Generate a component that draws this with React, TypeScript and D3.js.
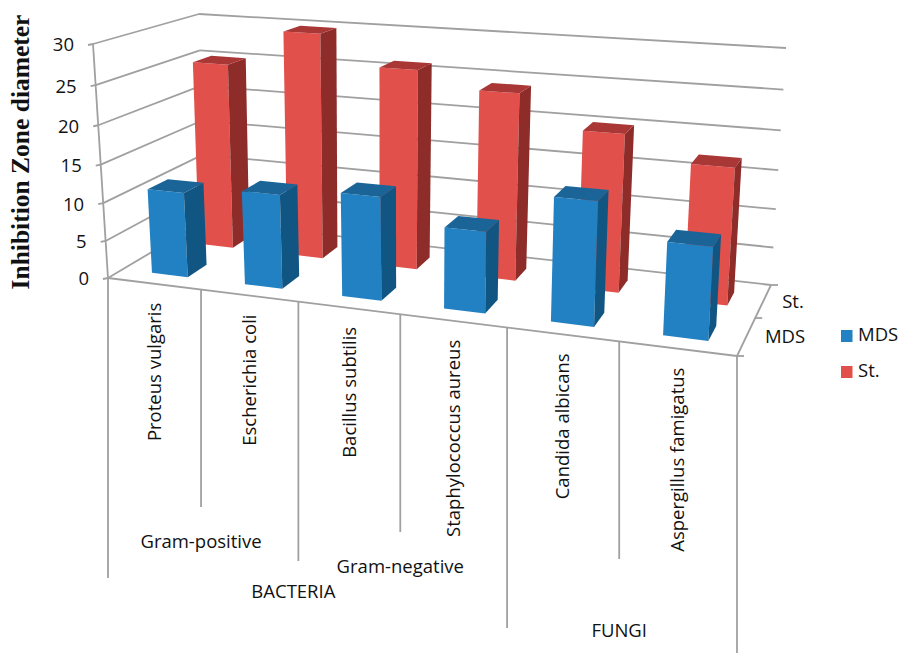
import React from "react";
import * as d3 from "d3";

// Chart values
const categories = ["Proteus vulgaris", "Escherichia coli", "Bacillus subtilis", "Staphylococcus aureus", "Candida albicans", "Aspergillus famigatus"];
const seriesNames = ["MDS", "St."];
const mdsValues = [11.25, 12.25, 13.25, 10.25, 15.25, 11.25];
const stValues = [25.25, 30, 26.25, 24.25, 20.25, 17.25];
const valueTicks = [0, 5, 10, 15, 20, 25, 30];
const groupLabels = [
  { text: "Gram-positive", from: 0, to: 2, line: 0 },
  { text: "Gram-negative", from: 2, to: 4, line: 1 },
  { text: "BACTERIA", from: 0, to: 4, line: 2 },
  { text: "FUNGI", from: 4, to: 6, line: 3 },
];

// Palette
const seriesColors = [
  { front: "#2181C2", side: "#115583", top: "#1A6497" },
  { front: "#E2504C", side: "#8E2C2A", top: "#A93735" },
];
const GRID = "#a0a0a0";
const TEXT = "#111";
const FONT = "'Open Sans', sans-serif";

type Pt = [number, number];

// Corners of the 3D plot box on screen
const box = {
  fl0: [108, 278] as Pt, fr0: [737, 356] as Pt, bl0: [204, 221] as Pt, br0: [771, 285] as Pt,
  fl1: [93, 44] as Pt, fr1: [752, 88] as Pt, bl1: [199, 14] as Pt, br1: [786, 48] as Pt,
};

const mix = (a: Pt, b: Pt, t: number): Pt => d3.interpolateArray(a, b)(t) as Pt;

// Foreshortening along each axis of the box
const warp = (k: number) => (t: number) => (k * t) / (1 + (k - 1) * t);
const warpX = warp(0.868);
const warpZ = warp(1.15);
const warpV = warp(0.94);

const xScale = d3.scaleBand<string>().domain(categories).range([0, 1]);
const zScale = d3.scaleBand<string>().domain(seriesNames).range([-0.01, 0.97]);
const vScale = d3.scaleLinear().domain([0, 30]).range([0, 1]);

// x and z are in 0..1 box units, value in chart units
function project(x: number, z: number, value: number): Pt {
  const u = warpX(x);
  const d = warpZ(z);
  const v = warpV(vScale(value));
  const bottom = mix(mix(box.fl0, box.fr0, u), mix(box.bl0, box.br0, u), d);
  const top = mix(mix(box.fl1, box.fr1, u), mix(box.bl1, box.br1, u), d);
  return mix(bottom, top, v);
}

const path = d3.line<Pt>();
const poly = (pts: Pt[]) => path(pts)! + "Z";

const BAR_WIDTH = 0.39;
const BAR_DEPTH = 0.4;
const BAR_SHIFT = 0.003;

function Bar({ cat, series, value }: { cat: string; series: number; value: number }) {
  const step = xScale.step();
  const cx = xScale(cat)! + step / 2 + BAR_SHIFT;
  const zStep = zScale.step();
  const cz = zScale(seriesNames[series])! + zStep / 2;
  const x0 = cx - (step * BAR_WIDTH) / 2;
  const x1 = cx + (step * BAR_WIDTH) / 2;
  const z0 = cz - (zStep * BAR_DEPTH) / 2;
  const z1 = cz + (zStep * BAR_DEPTH) / 2;
  const c = seriesColors[series];
  return (
    <g>
      <path d={poly([project(x0, z0, 0), project(x1, z0, 0), project(x1, z0, value), project(x0, z0, value)])} fill={c.front} />
      <path d={poly([project(x1, z0, 0), project(x1, z1, 0), project(x1, z1, value), project(x1, z0, value)])} fill={c.side} />
      <path d={poly([project(x0, z0, value), project(x1, z0, value), project(x1, z1, value), project(x0, z1, value)])} fill={c.top} />
    </g>
  );
}

function Line({ a, b, w = 1.8 }: { a: Pt; b: Pt; w?: number }) {
  return <line x1={a[0]} y1={a[1]} x2={b[0]} y2={b[1]} stroke={GRID} strokeWidth={w} />;
}

// Drop lengths of the category dividers below the front floor edge
const dividerEnds = [578, 507, 561, 532, 628, 559, 653];
const groupY = [543, 568, 593, 632];
const groupDx = [0, 0, -5, 0];

export default function App() {
  const n = categories.length;
  const edges = d3.range(n + 1).map((i) => i / n);
  return (
    <svg width={898} height={653} style={{ position: "absolute", left: 0, top: 0 }} fontFamily={FONT} fill={TEXT}>
      <rect width={898} height={653} fill="#fff" />

      {/* walls */}
      {valueTicks.map((t) => {
        const fl = project(0, 0, t);
        const bl = project(0, 1, t);
        const br = project(1, 1, t);
        return (
          <g key={t}>
            <Line a={[fl[0] - 5, fl[1] + 1]} b={fl} />
            <Line a={fl} b={bl} />
            <Line a={bl} b={br} />
            <text x={fl[0] - 19} y={fl[1] + 2.5} textAnchor="end" dominantBaseline="middle" fontSize={18.5}>{t}</text>
          </g>
        );
      })}
      <Line a={project(0, 0, 0)} b={project(0, 0, 30)} />

      {/* floor edges */}
      <Line a={project(0, 0, 0)} b={project(1, 0, 0)} />
      <Line a={project(1, 0, 0)} b={project(1, 1, 0)} />
      {[0, 0.5, 1].map((z) => {
        const p = project(1, z, 0);
        return <Line key={z} a={p} b={[p[0] + 7, p[1]]} />;
      })}

      {/* category dividers and labels */}
      {edges.map((e, i) => {
        const p = project(e, 0, 0);
        return <Line key={i} a={p} b={[p[0], dividerEnds[i]]} />;
      })}
      {categories.map((c) => {
        const p = project(xScale(c)! + xScale.step() / 2, 0, 0);
        return (
          <text key={c} transform={`translate(${p[0] + 2},${p[1] + 19}) rotate(-90)`} textAnchor="end" dominantBaseline="middle" fontSize={18.5}>{c}</text>
        );
      })}
      {groupLabels.map((g) => {
        const p = project((g.from + g.to) / 2 / n, 0, 0);
        return (
          <text key={g.text} x={p[0] + groupDx[g.line]} y={groupY[g.line]} textAnchor="middle" dominantBaseline="middle" fontSize={18.5}>{g.text}</text>
        );
      })}

      {/* bars, rear row first */}
      {categories.map((c, i) => <Bar key={c} cat={c} series={1} value={stValues[i]} />)}
      {categories.map((c, i) => <Bar key={c} cat={c} series={0} value={mdsValues[i]} />)}

      {/* depth axis labels */}
      <text x={793} y={303} textAnchor="middle" dominantBaseline="middle" fontSize={18.5}>St.</text>
      <text x={785} y={338} textAnchor="middle" dominantBaseline="middle" fontSize={18.5}>MDS</text>

      {/* legend */}
      {seriesNames.map((s, i) => (
        <g key={s} transform={`translate(841,${330 + i * 36})`}>
          <rect width={11.5} height={12} fill={seriesColors[i].front} />
          <text x={17} y={6} dominantBaseline="middle" fontSize={18.5}>{s}</text>
        </g>
      ))}

      {/* value axis title */}
      <text transform="translate(23,152) rotate(-90)" textAnchor="middle" dominantBaseline="middle" fontFamily="'Liberation Serif', serif" fontWeight="bold" fontSize={25.5}>Inhibition Zone diameter</text>
    </svg>
  );
}
